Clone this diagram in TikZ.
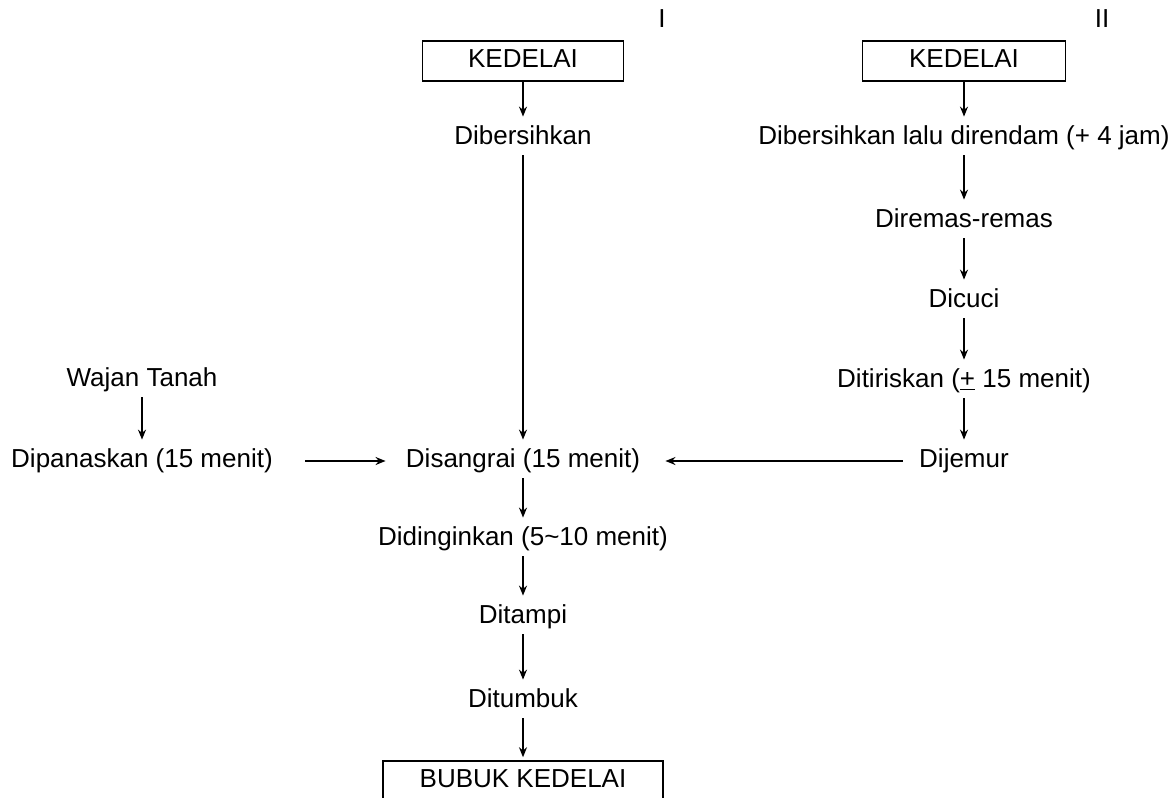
\documentclass[tikz,border=0pt]{standalone}
\usepackage{fontspec}
\setmainfont{Liberation Sans}
\usetikzlibrary{arrows.meta}

\begin{document}
\begin{tikzpicture}[x=0.5pt, y=-0.5pt,
  font=\fontsize{13}{15}\selectfont,
  proc/.style={anchor=base, inner sep=0pt, text height=9.5pt, text depth=3.5pt},
  endbox/.style={proc, draw, line width=0.75pt, minimum height=20pt},
  flow/.style={-{Stealth[length=5pt, width=4pt]}, line width=0.75pt, shorten <=2pt, shorten >=4pt}]
\useasboundingbox (0,0) rectangle (1173,798);
\clip (0,0) rectangle (1173,798);
\node[proc] (numA) at (662,27) {I};
\node[proc] (numB) at (1102,27) {II};
\node[endbox, minimum width=100.5pt] (kedelaiA) at (523,67) {KEDELAI};
\node[endbox, minimum width=101.5pt] (kedelaiB) at (964,67) {KEDELAI};
\node[proc] (bersihA) at (523,144) {Dibersihkan};
\node[proc] (bersihB) at (964,144) {Dibersihkan lalu direndam (+ 4 jam)};
\node[proc] (remas) at (964,227) {Diremas-remas};
\node[proc] (cuci) at (964,307) {Dicuci};
\node[proc] (tiris) at (964,387) {Ditiriskan (\underline{+} 15 menit)};
\node[proc] (jemur) at (964,467) {Dijemur};
\node[proc] (wajan) at (142,386) {Wajan Tanah};
\node[proc] (panas) at (142,467) {Dipanaskan (15 menit)};
\node[proc] (sangrai) at (523,467) {Disangrai (15 menit)};
\node[proc] (dingin) at (523,545) {Didinginkan (5\textasciitilde10 menit)};
\node[proc] (tampi) at (523,623) {Ditampi};
\node[proc] (tumbuk) at (523,707) {Ditumbuk};
\node[endbox, minimum width=140pt] (bubuk) at (523,787) {BUBUK KEDELAI};
\draw[flow, shorten <=0pt] (kedelaiA) -- (bersihA);
\draw[flow, shorten <=0pt] (kedelaiB) -- (bersihB);
\draw[flow] (bersihA) -- (sangrai);
\draw[flow] (bersihB) -- (remas);
\draw[flow] (remas) -- (cuci);
\draw[flow] (cuci) -- (tiris);
\draw[flow] (tiris) -- (jemur);
\draw[flow] (wajan) -- (panas);
\draw[flow, shorten <=16pt, shorten >=10pt] (panas) -- (sangrai);
\draw[flow, shorten <=8pt, shorten >=12.5pt] (jemur) -- (sangrai);
\draw[flow] (sangrai) -- (dingin);
\draw[flow] (dingin) -- (tampi);
\draw[flow] (tampi) -- (tumbuk);
\draw[flow, shorten >=1.5pt] (tumbuk) -- (bubuk);
\end{tikzpicture}
\end{document}
